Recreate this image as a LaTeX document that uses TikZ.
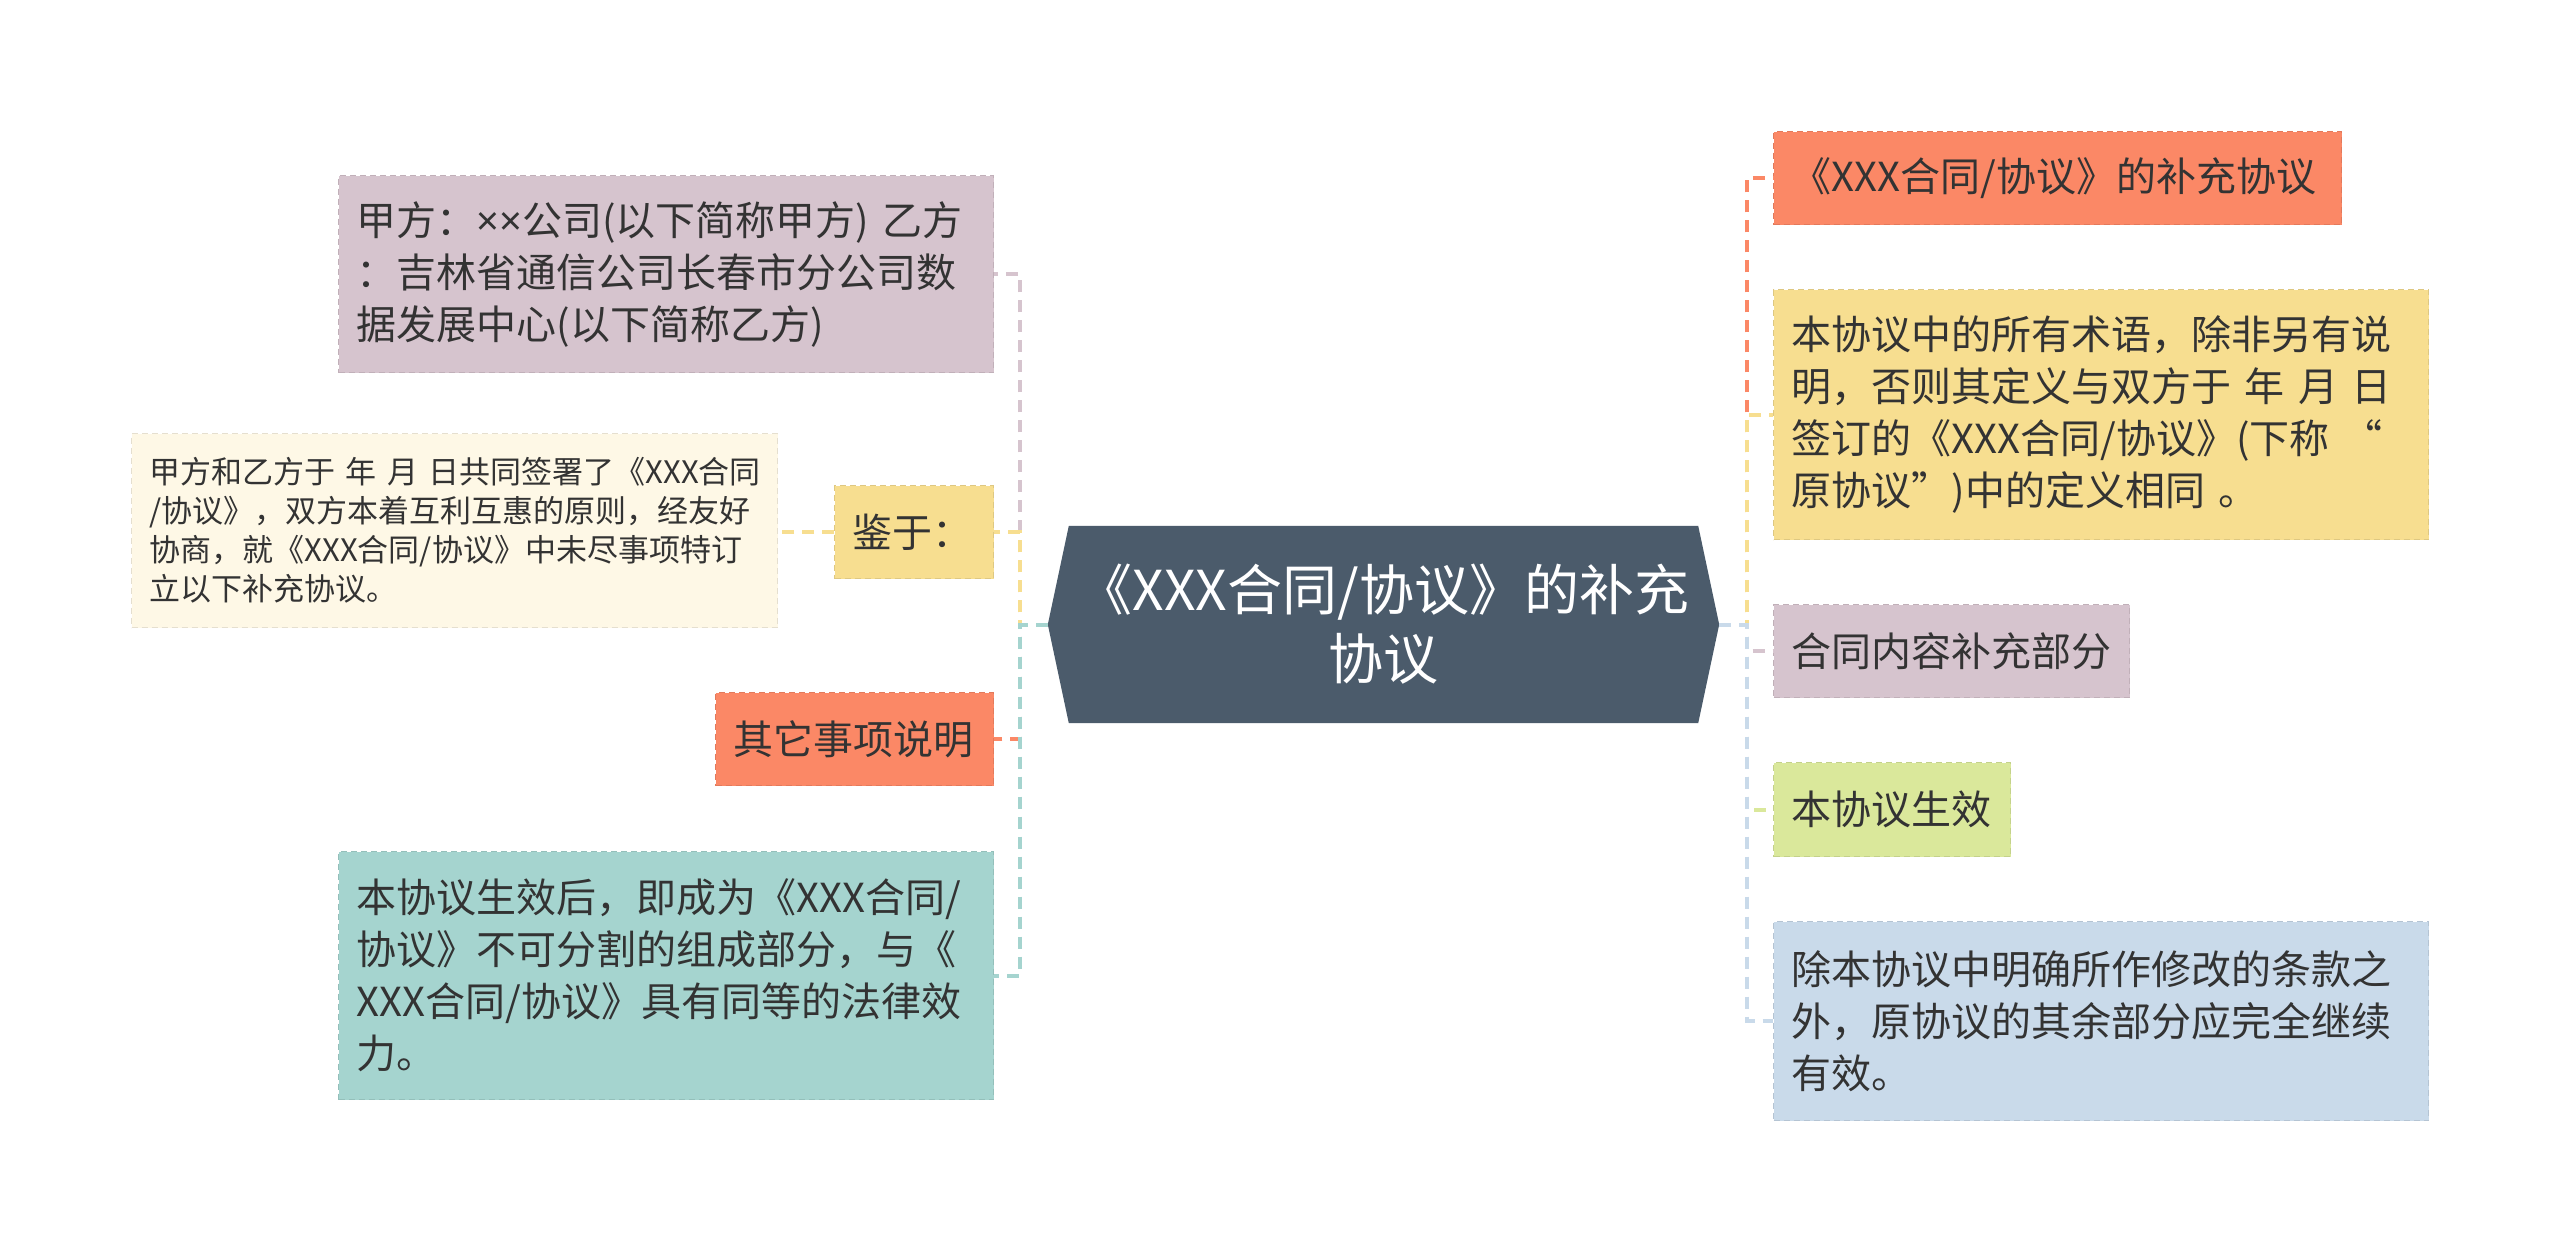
\documentclass[tikz,border=0pt]{standalone}
\usepackage{fontspec}
\setmainfont{Noto Sans CJK SC}
\newfontfamily\latinf{Noto Sans}
\usetikzlibrary{backgrounds}
\definecolor{cnode}{HTML}{4B5B6B}
\definecolor{corange}{HTML}{FB8866}
\definecolor{cmauve}{HTML}{D6C4CE}
\definecolor{cpale}{HTML}{FEF8E6}
\definecolor{cyellow}{HTML}{F7DE90}
\definecolor{cteal}{HTML}{A5D4CF}
\definecolor{cgreen}{HTML}{DAE89B}
\definecolor{cblue}{HTML}{C9DAEA}
\definecolor{ctext}{HTML}{333333}
\begin{document}
\begin{tikzpicture}[x=1pt,y=-1pt,
  mmbox/.style={anchor=north west, fill=#1, draw=#1!90!black, dash pattern=on 6pt off 4pt,
    line width=1.2pt, inner xsep=18pt, inner ysep=0pt, align=left, text=ctext,
    font=\fontsize{40}{52}\selectfont},
  conn/.style={draw=#1, line width=4pt, dash pattern=on 12pt off 8pt},
]
\useasboundingbox (0,0) rectangle (2560,1251);

% central
\node[text=white, align=center, font=\fontsize{55}{69}\selectfont, minimum width=629pt,
  minimum height=197pt, inner sep=0pt] (c) at (1383.5,624.5) {《XXX合同/协议》的补充\\协议};
\begin{scope}[on background layer]
\fill[white] (0,0) rectangle (2560,1251);
\fill[cnode] (c.north west) -- (c.north east) -- ([xshift=21pt]c.east) -- (c.south east)
  -- (c.south west) -- ([xshift=-21pt]c.west) -- cycle;
\end{scope}
\coordinate (cl) at ([xshift=-21pt]c.west);
\coordinate (cr) at ([xshift=21pt]c.east);
\coordinate (sl) at (1020,624.5);
\coordinate (sr) at (1747,624.5);

% left
\node[mmbox=cmauve, text width=619pt, minimum height=197pt] (A) at (338,175)
  {甲方：{\latinf ××}公司(以下简称甲方)~乙方\\：吉林省通信公司长春市分公司数\\据发展中心(以下简称乙方)};
\node[mmbox=cpale, text width=610pt, minimum height=194pt, font=\fontsize{31}{39}\selectfont] (B) at (131,433)
  {甲方和乙方于~年~月~日共同签署了《XXX合同\\/协议》，双方本着互利互惠的原则，经友好\\协商，就《XXX合同/协议》中未尽事项特订\\立以下补充协议。};
\node[mmbox=cyellow, text width=123pt, minimum height=93pt] (C) at (834,485) {鉴于：};
\node[mmbox=corange, text width=242pt, minimum height=93pt] (D) at (715,692) {其它事项说明};
\node[mmbox=cteal, text width=619pt, minimum height=248pt] (E) at (338,851)
  {本协议生效后，即成为《XXX合同/\\协议》不可分割的组成部分，与《\\XXX合同/协议》具有同等的法律效\\力。};

% right
\node[mmbox=corange, text width=532pt, minimum height=93pt] (F) at (1773,131) {《XXX合同/协议》的补充协议};
\node[mmbox=cyellow, text width=619pt, minimum height=250pt] (G) at (1773,289)
  {本协议中的所有术语，除非另有说\\明，否则其定义与双方于~年~月~日\\签订的《XXX合同/协议》(下称~“\\原协议”)中的定义相同~。};
\node[mmbox=cmauve, text width=320pt, minimum height=93pt] (H) at (1773,604) {合同内容补充部分};
\node[mmbox=cgreen, text width=201pt, minimum height=94pt] (I) at (1773,762) {本协议生效};
\node[mmbox=cblue, text width=619pt, minimum height=199pt] (J) at (1773,921)
  {除本协议中明确所作修改的条款之\\外，原协议的其余部分应完全继续\\有效。};

% connectors
\draw[conn=cmauve] (cl) -- (sl) |- (A.east);
\draw[conn=cyellow] (cl) -- (sl) |- (C.east);
\draw[conn=cyellow] (C.west) -- (C.west -| B.east);
\draw[conn=corange] (cl) -- (sl) |- (D.east);
\draw[conn=cteal] (cl) -- (sl) |- (E.east);

\draw[conn=corange] (cr) -- (sr) |- (F.west);
\draw[conn=cyellow] (cr) -- (sr) |- (G.west);
\draw[conn=cmauve] (cr) -- (sr) |- (H.west);
\draw[conn=cgreen] (cr) -- (sr) |- (I.west);
\draw[conn=cblue] (cr) -- (sr) |- (J.west);
\end{tikzpicture}
\end{document}
